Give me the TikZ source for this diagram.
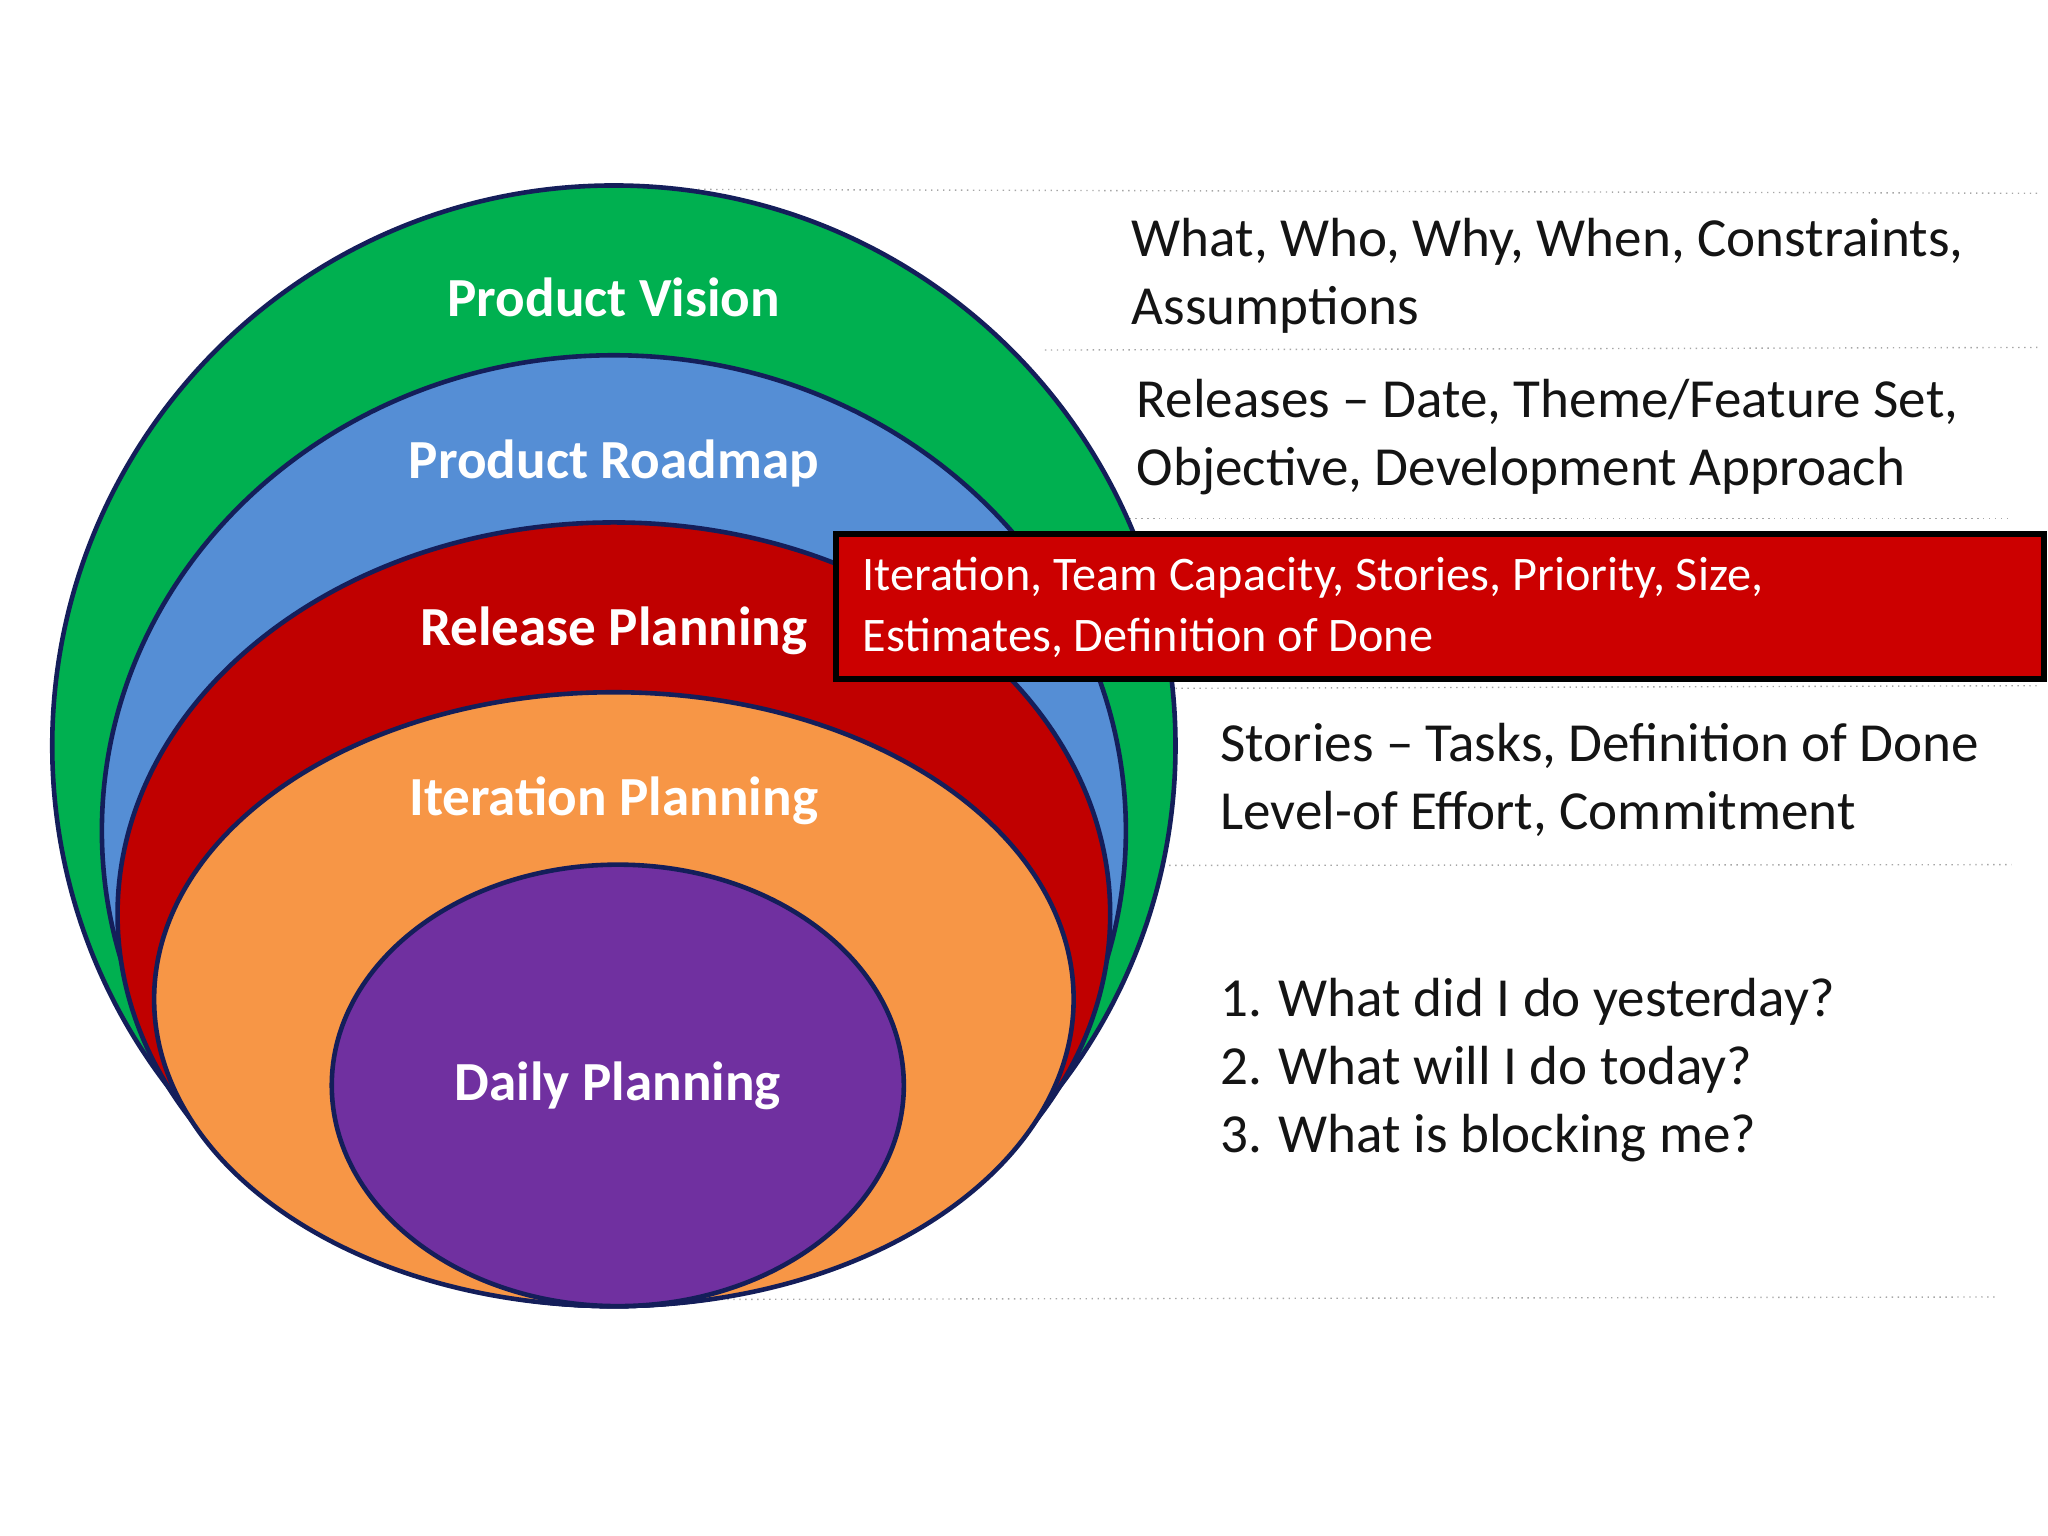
\documentclass[tikz,border=0pt]{standalone}
\usepackage{fontspec}
\setmainfont{Carlito}
\begin{document}
\begin{tikzpicture}[x=0.01cm,y=-0.01cm,
  ring/.style={draw={rgb,255:red,20;green,30;blue,90},line width=1pt},
  lab/.style={text=white,font=\fontsize{12}{14}\selectfont\bfseries},
  desc/.style={anchor=west,align=left,font=\fontsize{12}{14.8}\selectfont,text={rgb,255:red,20;green,20;blue,20}},
  guide/.style={draw=gray!70,densely dotted,line width=0.3pt}]
\useasboundingbox (0,0) rectangle (1568,1176);
\definecolor{cg}{RGB}{0,176,80}
\definecolor{cb}{RGB}{85,142,213}
\definecolor{cr}{RGB}{192,0,0}
\definecolor{co}{RGB}{247,150,70}
\definecolor{cp}{RGB}{112,48,160}
\draw[guide] (530,145) -- (1560,148);
\draw[guide] (800,268) -- (1560,266);
\draw[guide] (860,397) -- (1540,397);
\draw[guide] (900,527) -- (1560,525);
\draw[guide] (470,663) -- (1540,662);
\draw[guide] (470,995) -- (1530,993);
\path[ring,fill=cg] (470,571) ellipse [x radius=430,y radius=429];
\path[ring,fill=cb] (470,636) ellipse [x radius=392,y radius=364];
\path[ring,fill=cr] (470,700) ellipse [x radius=380,y radius=300];
\path[ring,fill=co] (470,765) ellipse [x radius=352,y radius=235];
\path[ring,fill=cp] (473,831) ellipse [x radius=219,y radius=169];
\node[lab] (pv) at (470,228) {Product Vision};
\node[lab] (pr) at (470,355) {Product Roadmap};
\node[lab] (rp) at (470,483) {Release Planning};
\node[lab] (ip) at (470,613) {Iteration Planning};
\node[lab] (dp) at (473,831) {Daily Planning};
\path[fill={rgb,255:red,204;green,0;blue,0},draw=black,line width=1.4pt] (640,409) rectangle (1565,520);
\node[desc,text=white,font=\fontsize{10.5}{13.3}\selectfont] (rb) at (648,465) {Iteration, Team Capacity, Stories, Priority, Size,\\Estimates, Definition of Done};
\node[desc] (d1) at (854,211) {What, Who, Why, When, Constraints,\\Assumptions};
\node[desc] (d2) at (858,335) {Releases -- Date, Theme/Feature Set,\\Objective, Development Approach};
\node[desc] (d4) at (922,597) {Stories -- Tasks, Definition of Done\\Level-of Effort, Commitment};
\node[desc] (d5) at (922,819) {1. What did I do yesterday?\\2. What will I do today?\\3. What is blocking me?};
\end{tikzpicture}
\end{document}
